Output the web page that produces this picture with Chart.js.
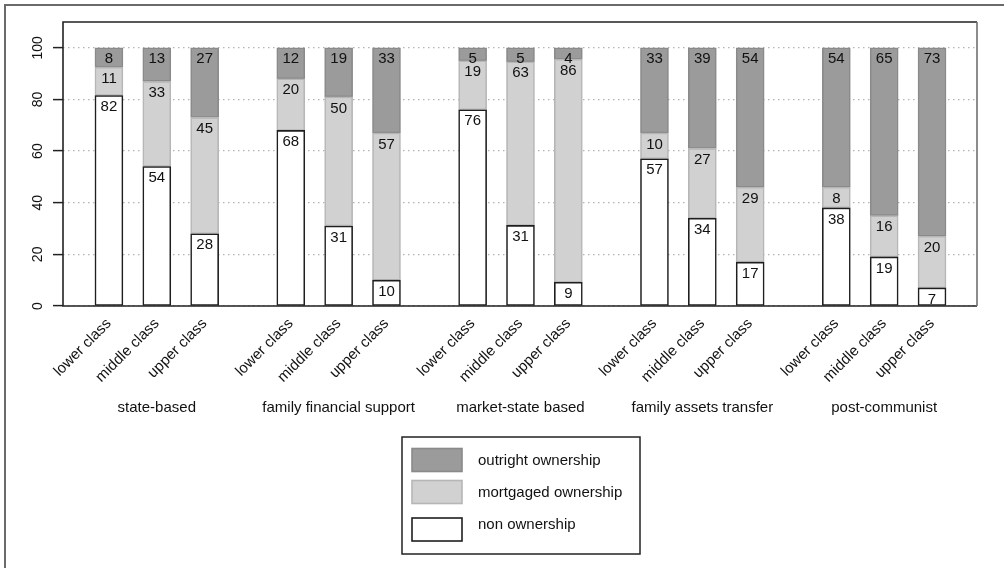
<!DOCTYPE html>
<html>
<head>
<meta charset="utf-8">
<script src="https://cdn.jsdelivr.net/npm/chart.js@4.4.1/dist/chart.umd.min.js"></script>
<style>
  html, body { margin: 0; padding: 0; background: #fff; }
  #wrap { width: 1004px; height: 568px; }
</style>
</head>
<body>
<div id="wrap"><canvas id="c" width="1004" height="568"></canvas></div>
<script>
// ---- data ----
const groups = ["state-based", "family financial support", "market-state based", "family assets transfer", "post-communist"];
const classes = ["lower class", "middle class", "upper class"];
const nonOwnership = [81.5, 54, 28, 68, 31, 10, 76, 31.2, 9.2, 57, 34, 17, 38, 19, 7];
const mortgagedOwnership = [11, 33, 45, 20, 50, 57, 19, 63.4, 86.4, 10, 27, 29, 8, 16, 20];
const outrightOwnership = [7.5, 13, 27, 12, 19, 33, 5, 5.4, 4.4, 33, 39, 54, 54, 65, 73];
const seriesNames = ["non ownership", "mortgaged ownership", "outright ownership"];
const yTicks = [0, 20, 40, 60, 80, 100];

// ---- layout helpers ----
const groupStep = 3.8;
const positions = [];
groups.forEach((g, gi) => classes.forEach((c, ci) => positions.push(gi * groupStep + ci)));
const toPoints = arr => arr.map((v, i) => ({ x: positions[i], y: v }));

const FONT = "'Liberation Sans', Arial, Helvetica, sans-serif";

const bgPlugin = {
  id: 'bg',
  beforeDraw(chart) {
    const ctx = chart.ctx;
    ctx.save();
    ctx.fillStyle = '#fff';
    ctx.fillRect(0, 0, chart.width, chart.height);
    ctx.restore();
  }
};

const labelPlugin = {
  id: 'segLabels',
  afterDatasetsDraw(chart) {
    const ctx = chart.ctx;
    ctx.save();
    ctx.font = '15px ' + FONT;
    ctx.fillStyle = '#111';
    ctx.textAlign = 'center';
    ctx.textBaseline = 'top';
    chart.data.datasets.forEach((ds, di) => {
      const meta = chart.getDatasetMeta(di);
      meta.data.forEach((el, i) => {
        const v = ds.data[i].y;
        ctx.fillText(String(Math.round(v)), el.x, el.y + 4);
      });
    });
    ctx.restore();
  }
};

const framePlugin = {
  id: 'frame',
  afterDraw(chart) {
    const ctx = chart.ctx;
    const a = chart.chartArea;
    ctx.save();
    // outer frame (top & left)
    ctx.strokeStyle = '#6a6a6a';
    ctx.lineWidth = 2;
    ctx.beginPath();
    ctx.moveTo(5, 568); ctx.lineTo(5, 5); ctx.lineTo(1004, 5);
    ctx.stroke();
    // plot box
    ctx.strokeStyle = '#222';
    ctx.lineWidth = 1.6;
    ctx.beginPath();
    ctx.moveTo(a.right, a.top); ctx.lineTo(a.left, a.top); ctx.lineTo(a.left, a.bottom); ctx.lineTo(a.right, a.bottom);
    ctx.stroke();
    ctx.strokeStyle = '#707070';
    ctx.beginPath();
    ctx.moveTo(a.right, a.top); ctx.lineTo(a.right, a.bottom);
    ctx.stroke();

    // group labels
    const xs = chart.scales.x;
    ctx.font = '15px ' + FONT;
    ctx.fillStyle = '#111';
    ctx.textAlign = 'center';
    ctx.textBaseline = 'middle';
    groups.forEach((g, gi) => {
      ctx.fillText(g, xs.getPixelForValue(gi * groupStep + 1), 408);
    });

    // legend
    const lx = 402, ly = 437, lw = 238, lh = 117;
    ctx.strokeStyle = '#222';
    ctx.lineWidth = 1.5;
    ctx.strokeRect(lx, ly, lw, lh);
    const items = chart.data.datasets.slice().reverse();
    const rows = [448.5, 480.5, 518];
    items.forEach((ds, k) => {
      const sy = rows[k];
      ctx.fillStyle = ds.backgroundColor;
      ctx.fillRect(412, sy, 50, 23);
      ctx.strokeStyle = ds.borderColor;
      ctx.lineWidth = ds.borderWidth;
      ctx.strokeRect(412, sy, 50, 23);
      ctx.fillStyle = '#111';
      ctx.textAlign = 'left';
      ctx.textBaseline = 'middle';
      ctx.font = '15px ' + FONT;
      ctx.fillText(ds.label, 478, sy + 12 - (k === 2 ? 5 : 0));
    });
    ctx.restore();
  }
};

const chart = new Chart(document.getElementById('c'), {
  type: 'bar',
  data: {
    datasets: [
      { label: seriesNames[0], data: toPoints(nonOwnership), backgroundColor: '#ffffff', borderColor: '#1e1e1e', borderWidth: 1.6, borderSkipped: false },
      { label: seriesNames[1], data: toPoints(mortgagedOwnership), backgroundColor: '#d1d1d1', borderColor: '#b6b6b6', borderWidth: 1.6, borderSkipped: false },
      { label: seriesNames[2], data: toPoints(outrightOwnership), backgroundColor: '#9b9b9b', borderColor: '#8a8a8a', borderWidth: 1.6, borderSkipped: false }
    ]
  },
  options: {
    responsive: false,
    animation: false,
    devicePixelRatio: 1,
    barThickness: 28,
    layout: { padding: { left: 0, top: 22, right: 27, bottom: 0 } },
    plugins: { legend: { display: false }, tooltip: { enabled: false } },
    scales: {
      x: {
        type: 'linear',
        stacked: true,
        offset: false,
        min: -0.96,
        max: 18.14,
        grid: { display: false },
        border: { display: false },
        afterBuildTicks(scale) { scale.ticks = positions.map(v => ({ value: v })); },
        afterFit(scale) { scale.height = 262; scale.paddingLeft = 0; scale.paddingRight = 0; },
        ticks: {
          autoSkip: false,
          minRotation: 45,
          maxRotation: 45,
          padding: 1,
          color: '#111',
          font: { size: 15, family: FONT },
          callback: (value, index) => classes[index % classes.length]
        }
      },
      y: {
        stacked: true,
        min: 0,
        max: 110,
        afterBuildTicks(scale) { scale.ticks = yTicks.map(v => ({ value: v })); },
        afterFit(scale) { scale.width = 63; scale.paddingTop = 0; scale.paddingBottom = 0; },
        border: { display: false, dash: [1.5, 3.5] },
        grid: {
          color: '#b4b4b4',
          lineWidth: 1.2,
          tickColor: '#222',
          tickLength: 10,
          tickWidth: 1.5,
          tickBorderDash: [],
          drawTicks: true
        },
        ticks: {
          minRotation: 90,
          maxRotation: 90,
          crossAlign: 'center',
          padding: 3,
          color: '#111',
          font: { size: 14, family: FONT }
        }
      }
    }
  },
  plugins: [bgPlugin, labelPlugin, framePlugin]
});
</script>
</body>
</html>
